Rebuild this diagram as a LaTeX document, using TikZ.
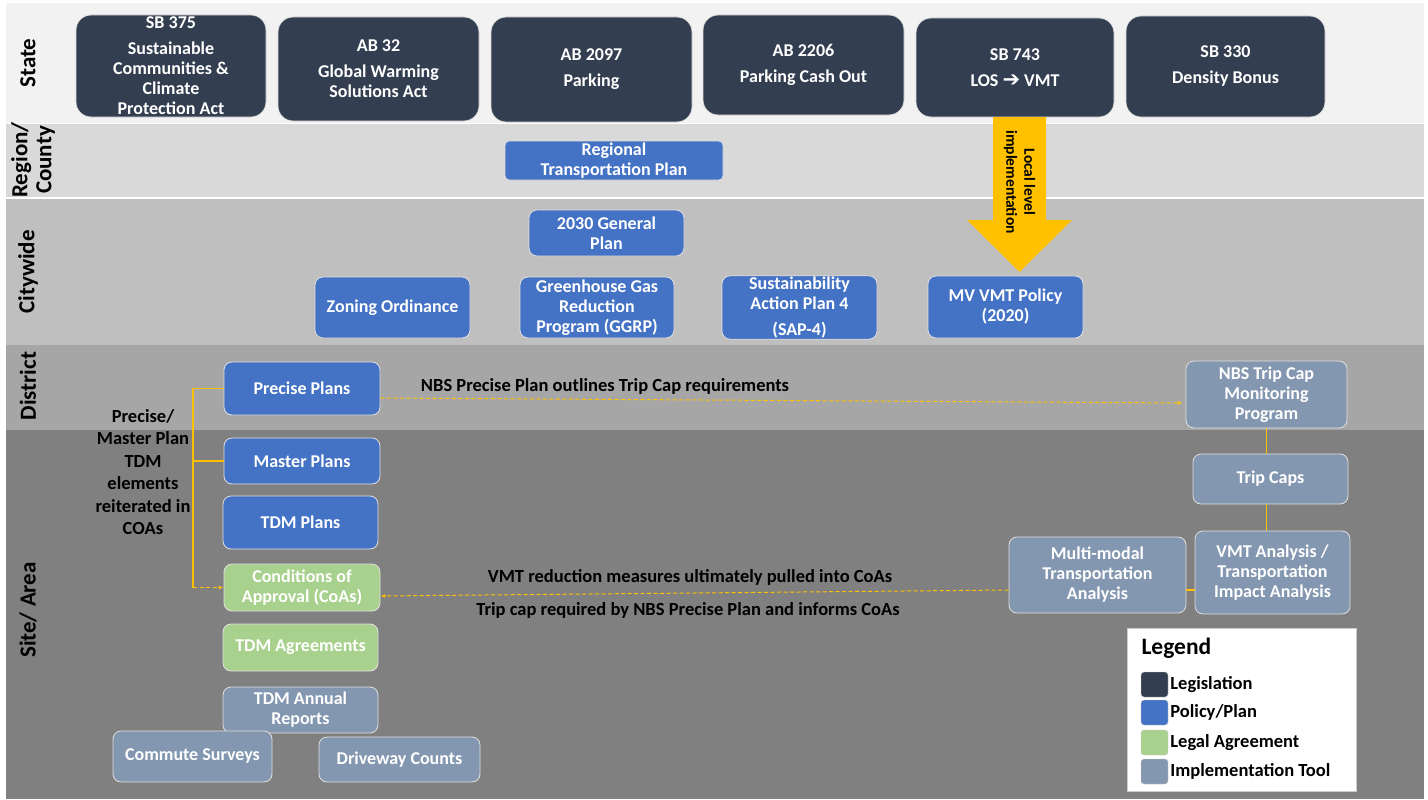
\documentclass[tikz,border=0pt]{standalone}
\usepackage{fontspec}
\setmainfont{Carlito}
\newfontfamily\symfont{DejaVu Sans}
\usetikzlibrary{arrows.meta,calc}

\definecolor{legis}{HTML}{333F50}
\definecolor{policy}{HTML}{4472C4}
\definecolor{legal}{HTML}{A9D18E}
\definecolor{tool}{HTML}{8497B0}
\definecolor{gold}{HTML}{FFC000}

\begin{document}
\begin{tikzpicture}[x=1pt,y=-1pt,
  box/.style={draw=white!88!black, line width=0.8pt, rounded corners=8pt, text=white,
              align=center, inner sep=1pt, font=\bfseries\fontsize{18}{20}\selectfont},
  law/.style={box, fill=legis, rounded corners=15pt},
  plan/.style={box, fill=policy},
  agree/.style={box, fill=legal},
  impl/.style={box, fill=tool},
  link/.style={gold, line width=1.2pt},
  flow/.style={gold, line width=1pt, dash pattern=on 4pt off 2.5pt, -{Latex[length=5pt,width=4pt]}},
  note/.style={align=center, font=\bfseries\fontsize{18.5}{22.5}\selectfont},
  band/.style={rotate=90, align=center, font=\bfseries\fontsize{23}{24}\selectfont},
]
    \useasboundingbox (0,0) rectangle (1428,800);

    % levels
    \foreach \top/\bot/\shade/\mx/\mid/\lab in {3/123/5/28/63/State, 124/197/15/33/160/{Region/\\County},
            199/345/25/28/272/Citywide, 345/430/35/28/386/District, 430/799/50/28/610/{Site/ Area}}
    {
        \fill[black!\shade] (6,\top) rectangle (1424,\bot);
        \node[band] at (\mx,\mid) {\lab};
    }
    \draw[white, line width=1.2pt] (6,198) -- (1424,198);

    % state
    \node[law, minimum width=190, minimum height=102] (sb375) at (171,66)
        {SB 375\\[6pt]Sustainable\\Communities \&\\Climate\\Protection Act};
    \node[law, minimum width=201, minimum height=104] (ab32) at (378.5,69)
        {AB 32\\[6pt]Global Warming\\Solutions Act};
    \node[law, minimum width=201, minimum height=105] (ab2097) at (591.5,69.5)
        {AB 2097\\[6pt]Parking};
    \node[law, minimum width=201, minimum height=100] (ab2206) at (803.5,65)
        {AB 2206\\[6pt]Parking Cash Out};
    \node[law, minimum width=198, minimum height=99] (sb743) at (1015,67.5)
        {SB 743\\[6pt]LOS {\symfont\bfseries\fontsize{21}{20}\selectfont ➔} VMT};
    \node[law, minimum width=199, minimum height=101] (sb330) at (1225.5,66.5)
        {SB 330\\[6pt]Density Bonus};

    % region / county
    \node[plan, rounded corners=4pt, minimum width=218, minimum height=39] (rtp) at (614,160.5)
        {Regional\\Transportation Plan};

    % local level implementation
    \coordinate (arrtop) at (1019.5,117);
    \coordinate (arrtip) at (1019.5,272);
    \fill[gold] ($(arrtop)+(-26.5,0)$) -- ($(arrtop)+(26.5,0)$) -- ($(arrtip)+(26.5,-52)$)
        -- ($(arrtip)+(52.5,-52)$) -- (arrtip) -- ($(arrtip)+(-52.5,-52)$)
        -- ($(arrtip)+(-26.5,-52)$) -- cycle;
    \node[rotate=-90, align=center, font=\bfseries\fontsize{15.5}{18}\selectfont] (arrlbl) at (1019.5,182)
        {Local level\\implementation};

    % citywide
    \node[plan, minimum width=155, minimum height=46] (gp2030) at (606.5,233) {2030 General\\Plan};
    \node[plan, minimum width=155, minimum height=61] (zoning) at (392.5,307.5) {Zoning Ordinance};
    \node[plan, minimum width=154, minimum height=61] (ggrp) at (597,307.5)
        {Greenhouse Gas\\Reduction\\Program (GGRP)};
    \node[plan, minimum width=155, minimum height=61] (sap4) at (799.5,307.5)
        {Sustainability\\Action Plan 4\\[6pt](SAP-4)};
    \node[plan, minimum width=155, minimum height=62] (mvvmt) at (1005.5,307) {MV VMT Policy\\(2020)};

    % district
    \node[plan, minimum width=156, minimum height=53] (precise) at (302,388.5) {Precise Plans};
    \node[impl, minimum width=161, minimum height=67] (nbstrip) at (1266.5,394.5)
        {NBS Trip Cap\\Monitoring\\Program};

    % site / area
    \node[plan, minimum width=156, minimum height=46] (master) at (302,461) {Master Plans};
    \node[plan, minimum width=155, minimum height=53] (tdmplans) at (300.5,522.5) {TDM Plans};
    \node[agree, minimum width=156, minimum height=47] (coa) at (302,587.5) {Conditions of\\Approval (CoAs)};
    \node[agree, minimum width=155, minimum height=47] (tdmagr) at (300.5,647.5) {TDM Agreements};
    \node[impl, minimum width=155, minimum height=46] (annual) at (300.5,710) {TDM Annual\\Reports};
    \node[impl, minimum width=159, minimum height=51] (commute) at (192.5,756.5) {Commute Surveys};
    \node[impl, minimum width=161, minimum height=45] (driveway) at (399.5,759.5) {Driveway Counts};
    \node[impl, minimum width=155, minimum height=50] (tripcaps) at (1270.5,479) {Trip Caps};
    \node[impl, minimum width=155, minimum height=83] (vmtana) at (1272.5,572.5)
        {VMT Analysis /\\Transportation\\Impact Analysis};
    \node[impl, minimum width=177, minimum height=76] (multimodal) at (1097.5,575)
        {Multi-modal\\Transportation\\Analysis};

    % connectors
    \coordinate (brk) at (193,388.5);
    \draw[link] (precise.west) -- (brk) -- (brk |- coa.west);
    \draw[link] (master.west) -- (brk |- master.west);
    \draw[flow] (brk |- coa.west) -- (coa.west);
    \node[note] (lblbrk) at (143,472) {Precise/\\Master Plan\\TDM\\elements\\reiterated in\\COAs};

    \draw[flow, shorten >=3pt] ([yshift=-9.5pt]precise.east) -- ([yshift=-8.5pt]nbstrip.west);
    \node[note] (lblprecise) at (605,386) {NBS Precise Plan outlines Trip Cap requirements};

    \draw[link] (nbstrip.south) -- (nbstrip.south |- tripcaps.north);
    \draw[link] (nbstrip.south |- tripcaps.south) -- (nbstrip.south |- vmtana.north);
    \draw[link] ([yshift=-15pt]multimodal.east) -- ([yshift=-15pt]multimodal.east -| vmtana.west);
    \draw[flow] ([yshift=-15pt]multimodal.west) -- ([yshift=-8.5pt]coa.east);
    \node[note] (lblvmt) at (690,577) {VMT reduction measures ultimately pulled into CoAs};
    \node[note] (lbltrip) at (688,610) {Trip cap required by NBS Precise Plan and informs CoAs};

    % legend
    \node[draw=white!80!black, fill=white, minimum width=229, minimum height=163] (legend) at (1241.5,709.5) {};
    \node[anchor=west, font=\bfseries\fontsize{23.5}{25}\selectfont] (legtitle) at (1138,648) {Legend};
    \foreach \c/\t/\y [count=\i] in {legis/Legislation/684.5, policy/{Policy/Plan}/712.5,
            legal/Legal Agreement/742.5, tool/Implementation Tool/771.5}
    {
        \node[fill=\c, draw=white!80!black, rounded corners=3pt, minimum width=27, minimum height=25,
              inner sep=0pt] (sw\i) at (1154.5,\y) {};
        \node[anchor=west, inner sep=2pt, font=\bfseries\fontsize{18.5}{20}\selectfont] (lb\i) at (sw\i.east) {\t};
    }
\end{tikzpicture}
\end{document}
